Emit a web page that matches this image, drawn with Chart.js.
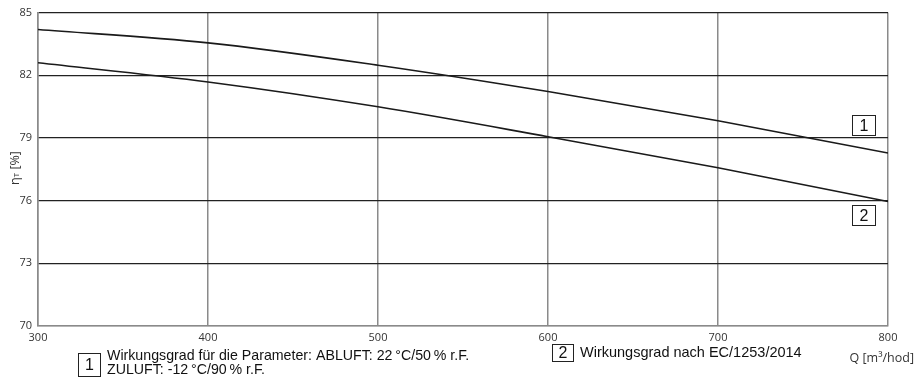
<!DOCTYPE html>
<html>
<head>
<meta charset="utf-8">
<script src="https://cdn.jsdelivr.net/npm/chart.js@4/dist/chart.umd.min.js"></script>
<style>
  html, body { margin: 0; padding: 0; background: #fff; }
  #wrap { width: 923px; height: 385px; position: relative; }
</style>
</head>
<body>
<div id="wrap"><canvas id="c"></canvas></div>
<script>
// Air flow Q [m³/hod] and temperature efficiency ηT [%]
const flowRates = [300, 400, 500, 600, 700, 800];
const efficiencyParams = [84.19, 83.55, 82.48, 81.22, 79.82, 78.28]; // curve 1
const efficiencyEC = [82.60, 81.68, 80.49, 79.06, 77.57, 75.96];     // curve 2
const xTickValues = [300, 400, 500, 600, 700, 800];
const yTickValues = [70, 73, 76, 79, 82, 85];

const legendText1a = 'Wirkungsgrad für die Parameter: ABLUFT: 22\u2009°C/50\u2009% r.F.';
const legendText1b = 'ZULUFT: -12\u2009°C/90\u2009% r.F.';
const legendText2 = 'Wirkungsgrad nach EC/1253/2014';
const xTitle = 'Q [m³/hod]';

const toPoints = (xs, ys) => xs.map((v, i) => ({ x: v, y: ys[i] }));

const TICK_FONT = { family: '"Open Sans", sans-serif', size: 11 };
const NOTE_FONT = '"Liberation Sans", Arial, sans-serif';

function drawBox(ctx, x, y, w, h, label) {
  ctx.strokeStyle = '#222';
  ctx.lineWidth = 1;
  ctx.strokeRect(Math.round(x) + 0.5, Math.round(y) + 0.5, w, h);
  ctx.fillStyle = '#111';
  ctx.font = '16px ' + NOTE_FONT;
  ctx.textAlign = 'center';
  ctx.textBaseline = 'middle';
  ctx.fillText(label, Math.round(x) + w / 2 + 0.5, Math.round(y) + h / 2 + 1.5);
}

const annotations = {
  id: 'annotations',
  afterDraw(chart) {
    const { ctx, scales: { x, y } } = chart;
    ctx.save();

    // curve labels inside the plot
    const bx = x.getPixelForValue(785) - 11;
    drawBox(ctx, bx, y.getPixelForValue(79.62) - 10, 23, 20, '1');
    drawBox(ctx, bx, y.getPixelForValue(75.33) - 10, 23, 20, '2');

    // notes below the axis
    drawBox(ctx, 78, 353, 22, 23, '1');
    ctx.fillStyle = '#111';
    ctx.font = '14.2px ' + NOTE_FONT;
    ctx.textAlign = 'left';
    ctx.textBaseline = 'middle';
    ctx.fillText(legendText1a, 107, 356.5);
    ctx.fillText(legendText1b, 107, 370.5);

    drawBox(ctx, 552, 344, 21, 17, '2');
    ctx.fillStyle = '#111';
    ctx.font = '14.5px ' + NOTE_FONT;
    ctx.textAlign = 'left';
    ctx.textBaseline = 'middle';
    ctx.fillText(legendText2, 580, 353);

    // x axis title
    ctx.fillStyle = '#333';
    ctx.font = '12.5px "Open Sans", sans-serif';
    ctx.textAlign = 'right';
    ctx.fillText(xTitle, 914, 358);

    // y axis title: ηT [%]
    ctx.translate(15, 168);
    ctx.rotate(-Math.PI / 2);
    ctx.textAlign = 'left';
    ctx.textBaseline = 'middle';
    const eta = 'η', rest = ' [%]';
    ctx.font = '12.5px "Open Sans", sans-serif';
    const wEta = ctx.measureText(eta).width;
    ctx.font = '8px "Open Sans", sans-serif';
    const wT = ctx.measureText('T').width;
    ctx.font = '12.5px "Open Sans", sans-serif';
    const wRest = ctx.measureText(rest).width;
    let sx = -(wEta + wT + wRest) / 2;
    ctx.fillText(eta, sx, 0);
    sx += wEta;
    ctx.font = '8px "Open Sans", sans-serif';
    ctx.fillText('T', sx, 2);
    sx += wT;
    ctx.font = '12.5px "Open Sans", sans-serif';
    ctx.fillText(rest, sx, 0);

    ctx.restore();
  }
};

new Chart(document.getElementById('c'), {
  type: 'line',
  data: {
    datasets: [
      {
        data: toPoints(flowRates, efficiencyParams),
        borderColor: '#1a1a1a',
        borderWidth: 1.6,
        pointRadius: 0,
        cubicInterpolationMode: 'monotone',
        fill: false
      },
      {
        data: toPoints(flowRates, efficiencyEC),
        borderColor: '#1a1a1a',
        borderWidth: 1.6,
        pointRadius: 0,
        cubicInterpolationMode: 'monotone',
        fill: false
      }
    ]
  },
  options: {
    responsive: true,
    maintainAspectRatio: false,
    animation: false,
    events: [],
    layout: { padding: { top: 11, right: 35, bottom: 0, left: 0 } },
    plugins: { legend: { display: false }, tooltip: { enabled: false } },
    scales: {
      x: {
        type: 'linear',
        min: 300,
        max: 800,
        afterBuildTicks: (axis) => { axis.ticks = xTickValues.map(v => ({ value: v })); },
        afterFit: (axis) => { axis.height = 59; },
        ticks: { color: '#333', font: TICK_FONT, padding: 5, maxRotation: 0 },
        grid: { color: '#8a8a8a', lineWidth: 1.5, drawTicks: false },
        border: { color: '#8a8a8a', width: 1.5 }
      },
      y: {
        type: 'linear',
        min: 70,
        max: 85,
        afterBuildTicks: (axis) => { axis.ticks = yTickValues.map(v => ({ value: v })); },
        afterFit: (axis) => { axis.width = 38; },
        ticks: { color: '#333', font: TICK_FONT, padding: 6 },
        grid: {
          color: (c) => (c.tick && c.tick.value === 70 ? '#8a8a8a' : '#222'),
          lineWidth: 1.2,
          drawTicks: false
        },
        border: { color: '#8a8a8a', width: 1.5 }
      }
    }
  },
  plugins: [annotations]
});
</script>
</body>
</html>
